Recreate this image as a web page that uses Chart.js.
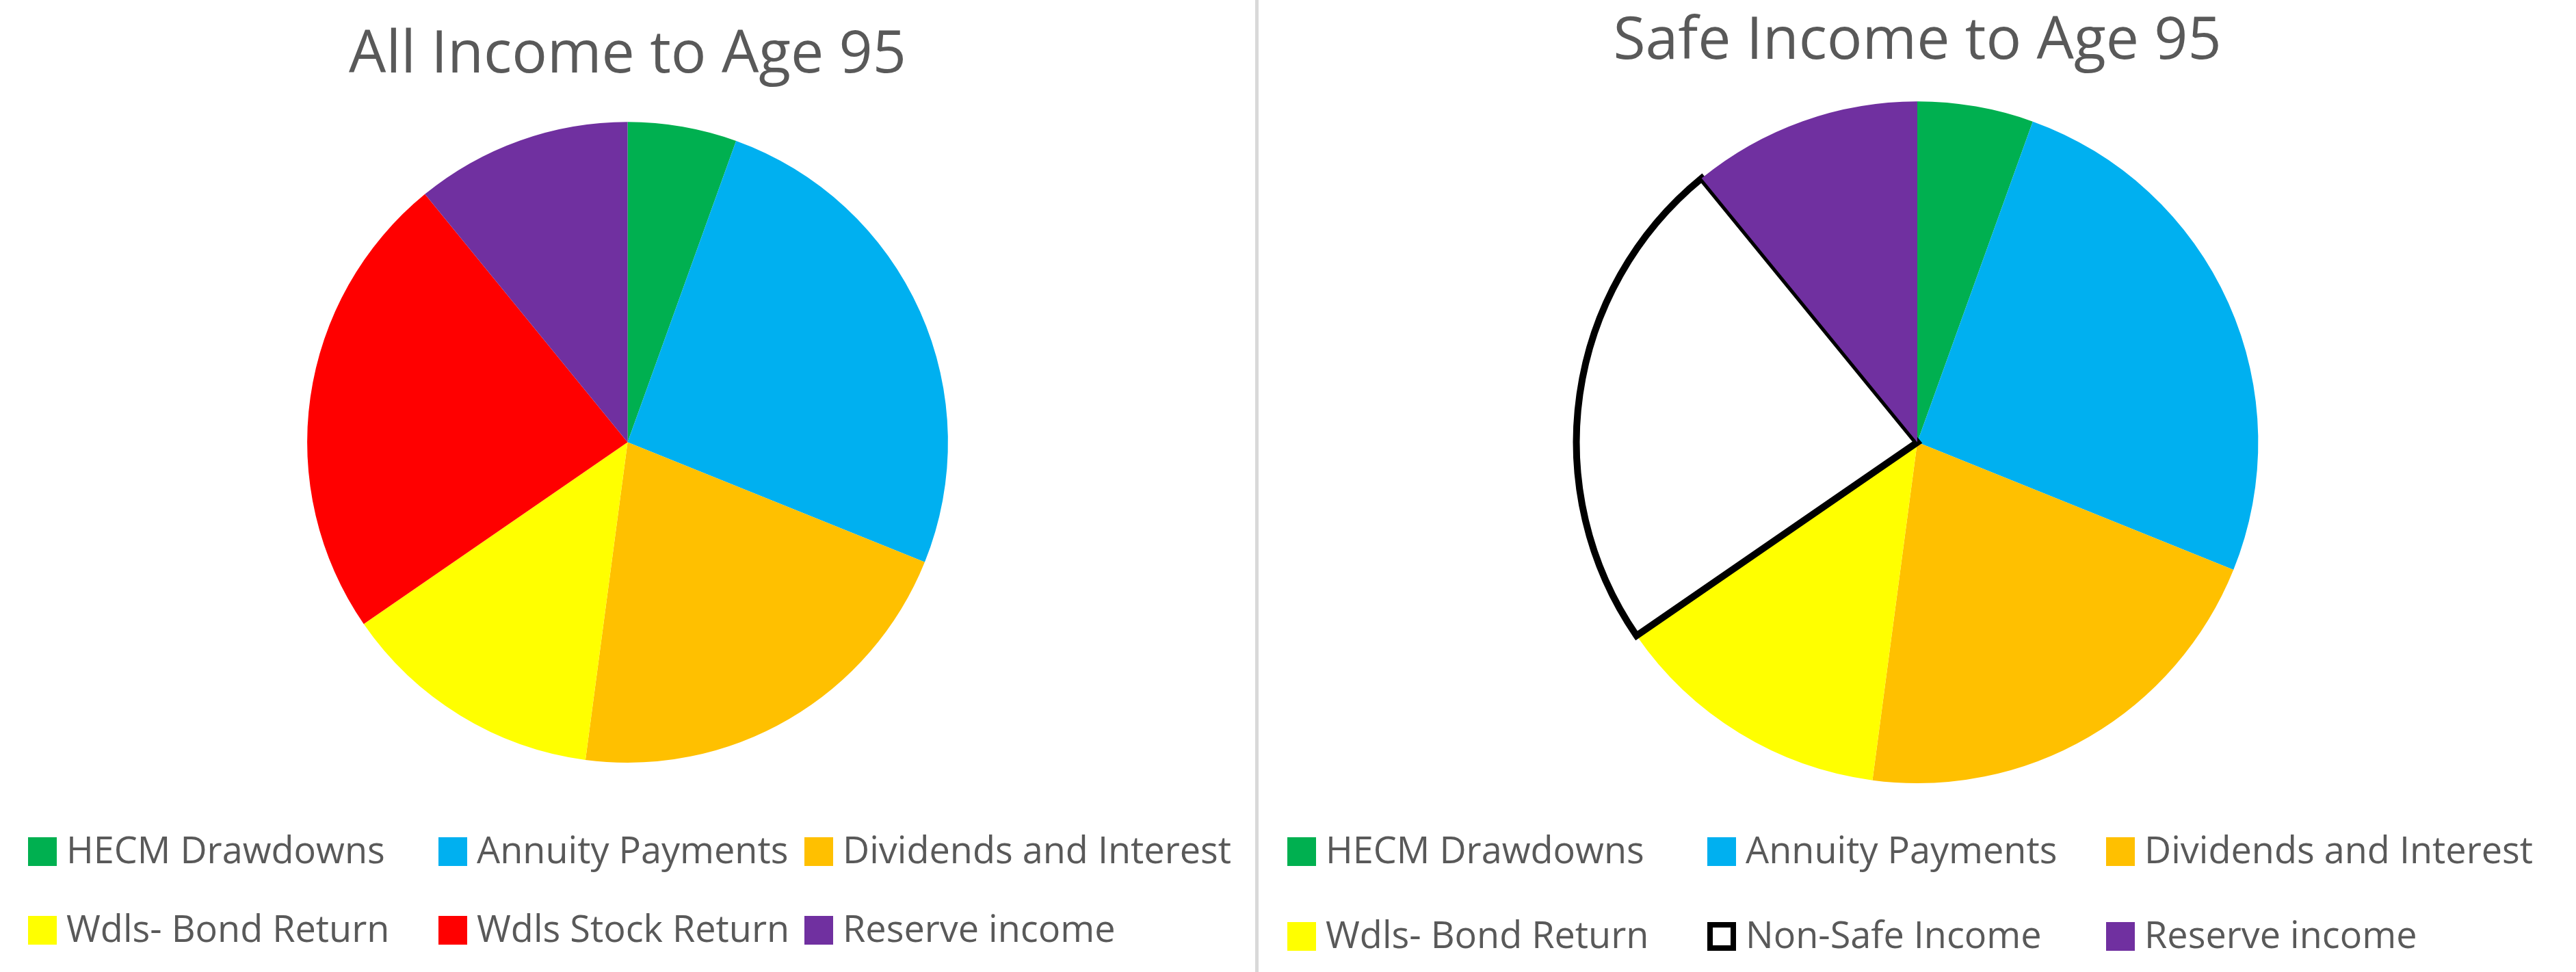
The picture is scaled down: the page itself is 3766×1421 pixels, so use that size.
<!DOCTYPE html>
<html>
<head>
<meta charset="utf-8">
<script src="https://cdn.jsdelivr.net/npm/chart.js@4/dist/chart.umd.min.js"></script>
<style>
body { margin: 0; background: #fff; font-family: "Open Sans", sans-serif; }
.half { position: absolute; top: 0; width: 1835px; height: 1421px; }
.half canvas { position: absolute; left: 0; top: 0; }
#divider { position: absolute; left: 1835px; top: 0; width: 5px; height: 1421px; background: #d9d9d9; }
.leg { position: absolute; font-size: 54px; color: #595959; white-space: nowrap; line-height: 60px; }
.leg span.box { display: inline-block; width: 42px; height: 42px; margin-right: 14px; vertical-align: -4px; box-sizing: border-box; }
</style>
</head>
<body>
<div class="half" id="leftHalf" style="left:0"><canvas id="chartAll"></canvas></div>
<div id="divider"></div>
<div class="half" id="rightHalf" style="left:1840px"><canvas id="chartSafe"></canvas></div>
<script>
// data (percent of income)
var allLabels = ['HECM Drawdowns', 'Annuity Payments', 'Dividends and Interest', 'Wdls- Bond Return', 'Wdls Stock Return', 'Reserve income'];
var allValues = [5.5, 25.6, 21.0, 13.3, 23.7, 10.9];
var allColors = ['#00b050', '#00b0f0', '#ffc000', '#ffff00', '#ff0000', '#7030a0'];

var safeLabels = ['HECM Drawdowns', 'Annuity Payments', 'Dividends and Interest', 'Wdls- Bond Return', 'Non-Safe Income', 'Reserve income'];
var safeValues = [5.5, 25.6, 21.0, 13.3, 23.7, 10.9];
var safeColors = ['#00b050', '#00b0f0', '#ffc000', '#ffff00', '#ffffff', '#7030a0'];

// legend slots (x offsets in each half, row tops)
var legendX = [[41, 641, 1176], [42, 656, 1239]];
var legendY = [[1211, 1326], [1211, 1335]];

function makePie(id, title, labels, values, colors, borders, w, h, pad, titlePad) {
    var cv = document.getElementById(id);
    cv.width = w; cv.height = h;
    cv.style.width = w + 'px'; cv.style.height = h + 'px';
    return new Chart(cv, {
        type: 'pie',
        data: {
            labels: labels,
            datasets: [{
                data: values,
                backgroundColor: colors,
                borderColor: '#000000',
                borderWidth: borders,
                borderJoinStyle: 'miter'
            }]
        },
        options: {
            responsive: false,
            animation: false,
            layout: { padding: pad },
            plugins: {
                legend: { display: false },
                tooltip: { enabled: false },
                title: {
                    display: true,
                    text: title,
                    color: '#595959',
                    font: { family: 'Open Sans', size: 86, weight: 'normal' },
                    padding: titlePad
                }
            }
        }
    });
}

function addLegend(halfId, labels, colors, side) {
    var half = document.getElementById(halfId);
    labels.forEach(function (lab, i) {
        var d = document.createElement('div');
        d.className = 'leg';
        d.style.left = legendX[side][i % 3] + 'px';
        d.style.top = legendY[side][Math.floor(i / 3)] + 'px';
        var box = document.createElement('span');
        box.className = 'box';
        box.style.background = colors[i];
        if (colors[i] === '#ffffff') box.style.border = '8px solid #000';
        d.appendChild(box);
        d.appendChild(document.createTextNode(lab));
        half.appendChild(d);
    });
}

makePie('chartAll', 'All Income to Age 95', allLabels, allValues, allColors,
    [0, 0, 0, 0, 0, 0], 1835, 1125, { top: 0, bottom: 10 }, { top: 30, bottom: 45 });
makePie('chartSafe', 'Safe Income to Age 95', safeLabels, safeValues, safeColors,
    [0, 0, 0, 0, 10, 0], 1926, 1150, { top: 0, bottom: 0 }, { top: 10, bottom: 30 });
addLegend('leftHalf', allLabels, allColors, 0);
addLegend('rightHalf', safeLabels, safeColors, 1);
</script>
</body>
</html>
